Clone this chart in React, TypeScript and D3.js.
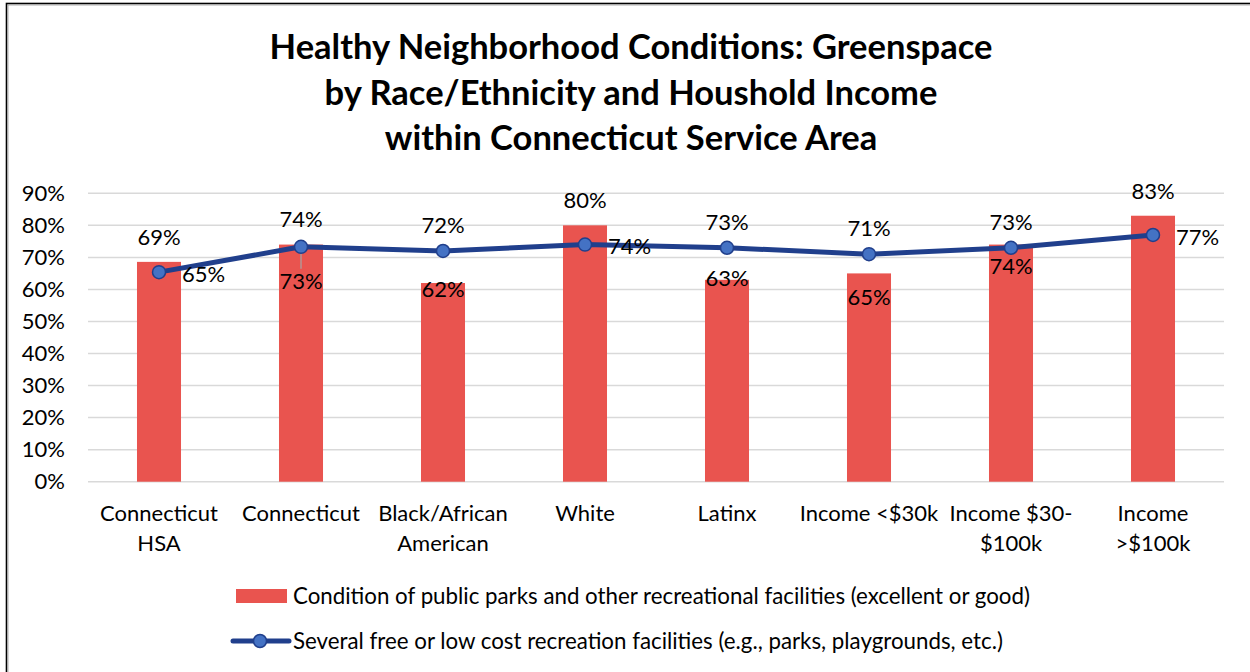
import React from "react";
import * as d3 from "d3";

const categories: string[][] = [
  ["Connecticut", "HSA"],
  ["Connecticut"],
  ["Black/African", "American"],
  ["White"],
  ["Latinx"],
  ["Income <$30k"],
  ["Income $30-", "$100k"],
  ["Income", ">$100k"],
];
const parksCondition: number[] = [0.686, 0.74, 0.62, 0.8, 0.63, 0.65, 0.74, 0.83];
const freeFacilities: number[] = [0.654, 0.733, 0.72, 0.74, 0.73, 0.71, 0.73, 0.77];
const yTicks: number[] = [0, 0.1, 0.2, 0.3, 0.4, 0.5, 0.6, 0.7, 0.8, 0.9];
const titleLines: string[] = [
  "Healthy Neighborhood Conditions: Greenspace",
  "by Race/Ethnicity and Houshold Income",
  "within Connecticut Service Area",
];
const seriesNames: string[] = [
  "Condition of public parks and other recreational facilities (excellent or good)",
  "Several free or low cost recreation facilities (e.g., parks, playgrounds, etc.)",
];

// label placement (layout only)
const barLabelDy: number[] = [-25, -25, 6, -25, -2, 24, 22, -24];
const lineLabelPos: string[] = ["right", "below", "above", "right", "above", "above", "above", "right"];

const W = 1250;
const H = 672;
const FONT = "Lato, 'Open Sans', sans-serif";
const BAR = "#E9544F";
const LINE = "#203F8C";
const MARK = "#4472C4";
const FS = 22;

export default function App() {
  const x = d3
    .scaleBand<number>()
    .domain(d3.range(categories.length))
    .range([88, 1224])
    .paddingInner(0.69)
    .paddingOuter(0.345);
  const y = d3.scaleLinear().domain([0, 0.9]).range([481.7, 193.3]);
  const cx = (i: number) => (x(i) as number) + x.bandwidth() / 2;
  const fmt = (v: number) => `${Math.round(v * 100)}%`;
  const line = d3
    .line<number>()
    .x((_, i) => cx(i))
    .y((d) => y(d));

  return (
    <svg
      width={W}
      height={H}
      style={{ position: "absolute", left: 0, top: 0, background: "#fff" }}
      fontFamily={FONT}
    >
      <rect x={0} y={0} width={W} height={H} fill="#fff" />
      <rect x={6.5} y={3.5} width={W + 20} height={H + 20} fill="none" stroke="#000" strokeWidth={1.6} />
      <line x1={8} x2={W} y1={5} y2={5} stroke="#999" strokeWidth={0.8} />
      <line x1={8} x2={8} y1={5} y2={H} stroke="#999" strokeWidth={0.8} />

      {titleLines.map((t, i) => (
        <text
          key={i}
          x={631}
          y={59 + i * 45.5}
          textAnchor="middle"
          fontSize={34.5}
          fontWeight="bold"
          fill="#000"
        >
          {t}
        </text>
      ))}

      {yTicks.map((t) => (
        <g key={t}>
          <line x1={88} x2={1224} y1={y(t)} y2={y(t)} stroke="#D9D9D9" strokeWidth={1.5} />
          <text x={65} y={y(t)} dy="0.35em" textAnchor="end" fontSize={FS} fill="#000">
            {fmt(t)}
          </text>
        </g>
      ))}

      {parksCondition.map((v, i) => (
        <rect key={i} x={x(i)} y={y(v)} width={x.bandwidth()} height={y(0) - y(v)} fill={BAR} />
      ))}

      <line x1={cx(1)} x2={cx(1)} y1={y(freeFacilities[1])} y2={y(freeFacilities[1]) + 22} stroke="#A6A6A6" strokeWidth={1.2} />

      <path d={line(freeFacilities) || ""} fill="none" stroke={LINE} strokeWidth={5} strokeLinejoin="round" />
      {freeFacilities.map((v, i) => (
        <circle key={i} cx={cx(i)} cy={y(v)} r={6.5} fill={MARK} stroke={LINE} strokeWidth={1.5} />
      ))}

      {parksCondition.map((v, i) => (
        <text key={i} x={cx(i)} y={y(v) + barLabelDy[i]} dy="0.35em" textAnchor="middle" fontSize={FS} fill="#000">
          {fmt(v)}
        </text>
      ))}
      {freeFacilities.map((v, i) => {
        const p = lineLabelPos[i];
        const px = p === "right" ? cx(i) + 23 : cx(i);
        const py = p === "right" ? y(v) + 2 : p === "above" ? y(v) - 25.5 : y(v) + 34;
        return (
          <text key={i} x={px} y={py} dy="0.35em" textAnchor={p === "right" ? "start" : "middle"} fontSize={FS} fill="#000">
            {fmt(v)}
          </text>
        );
      })}

      {categories.map((lines, i) => (
        <text key={i} x={cx(i)} y={513} textAnchor="middle" fontSize={FS} fill="#000">
          {lines.map((l, j) => (
            <tspan key={j} x={cx(i)} y={513 + j * 30} dy="0.35em">
              {l}
            </tspan>
          ))}
        </text>
      ))}

      <rect x={236} y={589} width={51} height={14} fill={BAR} />
      <text x={293} y={596} dy="0.35em" fontSize={22.3} fill="#000">
        {seriesNames[0]}
      </text>
      <line x1={233} x2={289} y1={641} y2={641} stroke={LINE} strokeWidth={5} strokeLinecap="round" />
      <circle cx={260} cy={641} r={6.5} fill={MARK} stroke={LINE} strokeWidth={1.5} />
      <text x={293} y={641} dy="0.35em" fontSize={22.3} fill="#000">
        {seriesNames[1]}
      </text>
    </svg>
  );
}
